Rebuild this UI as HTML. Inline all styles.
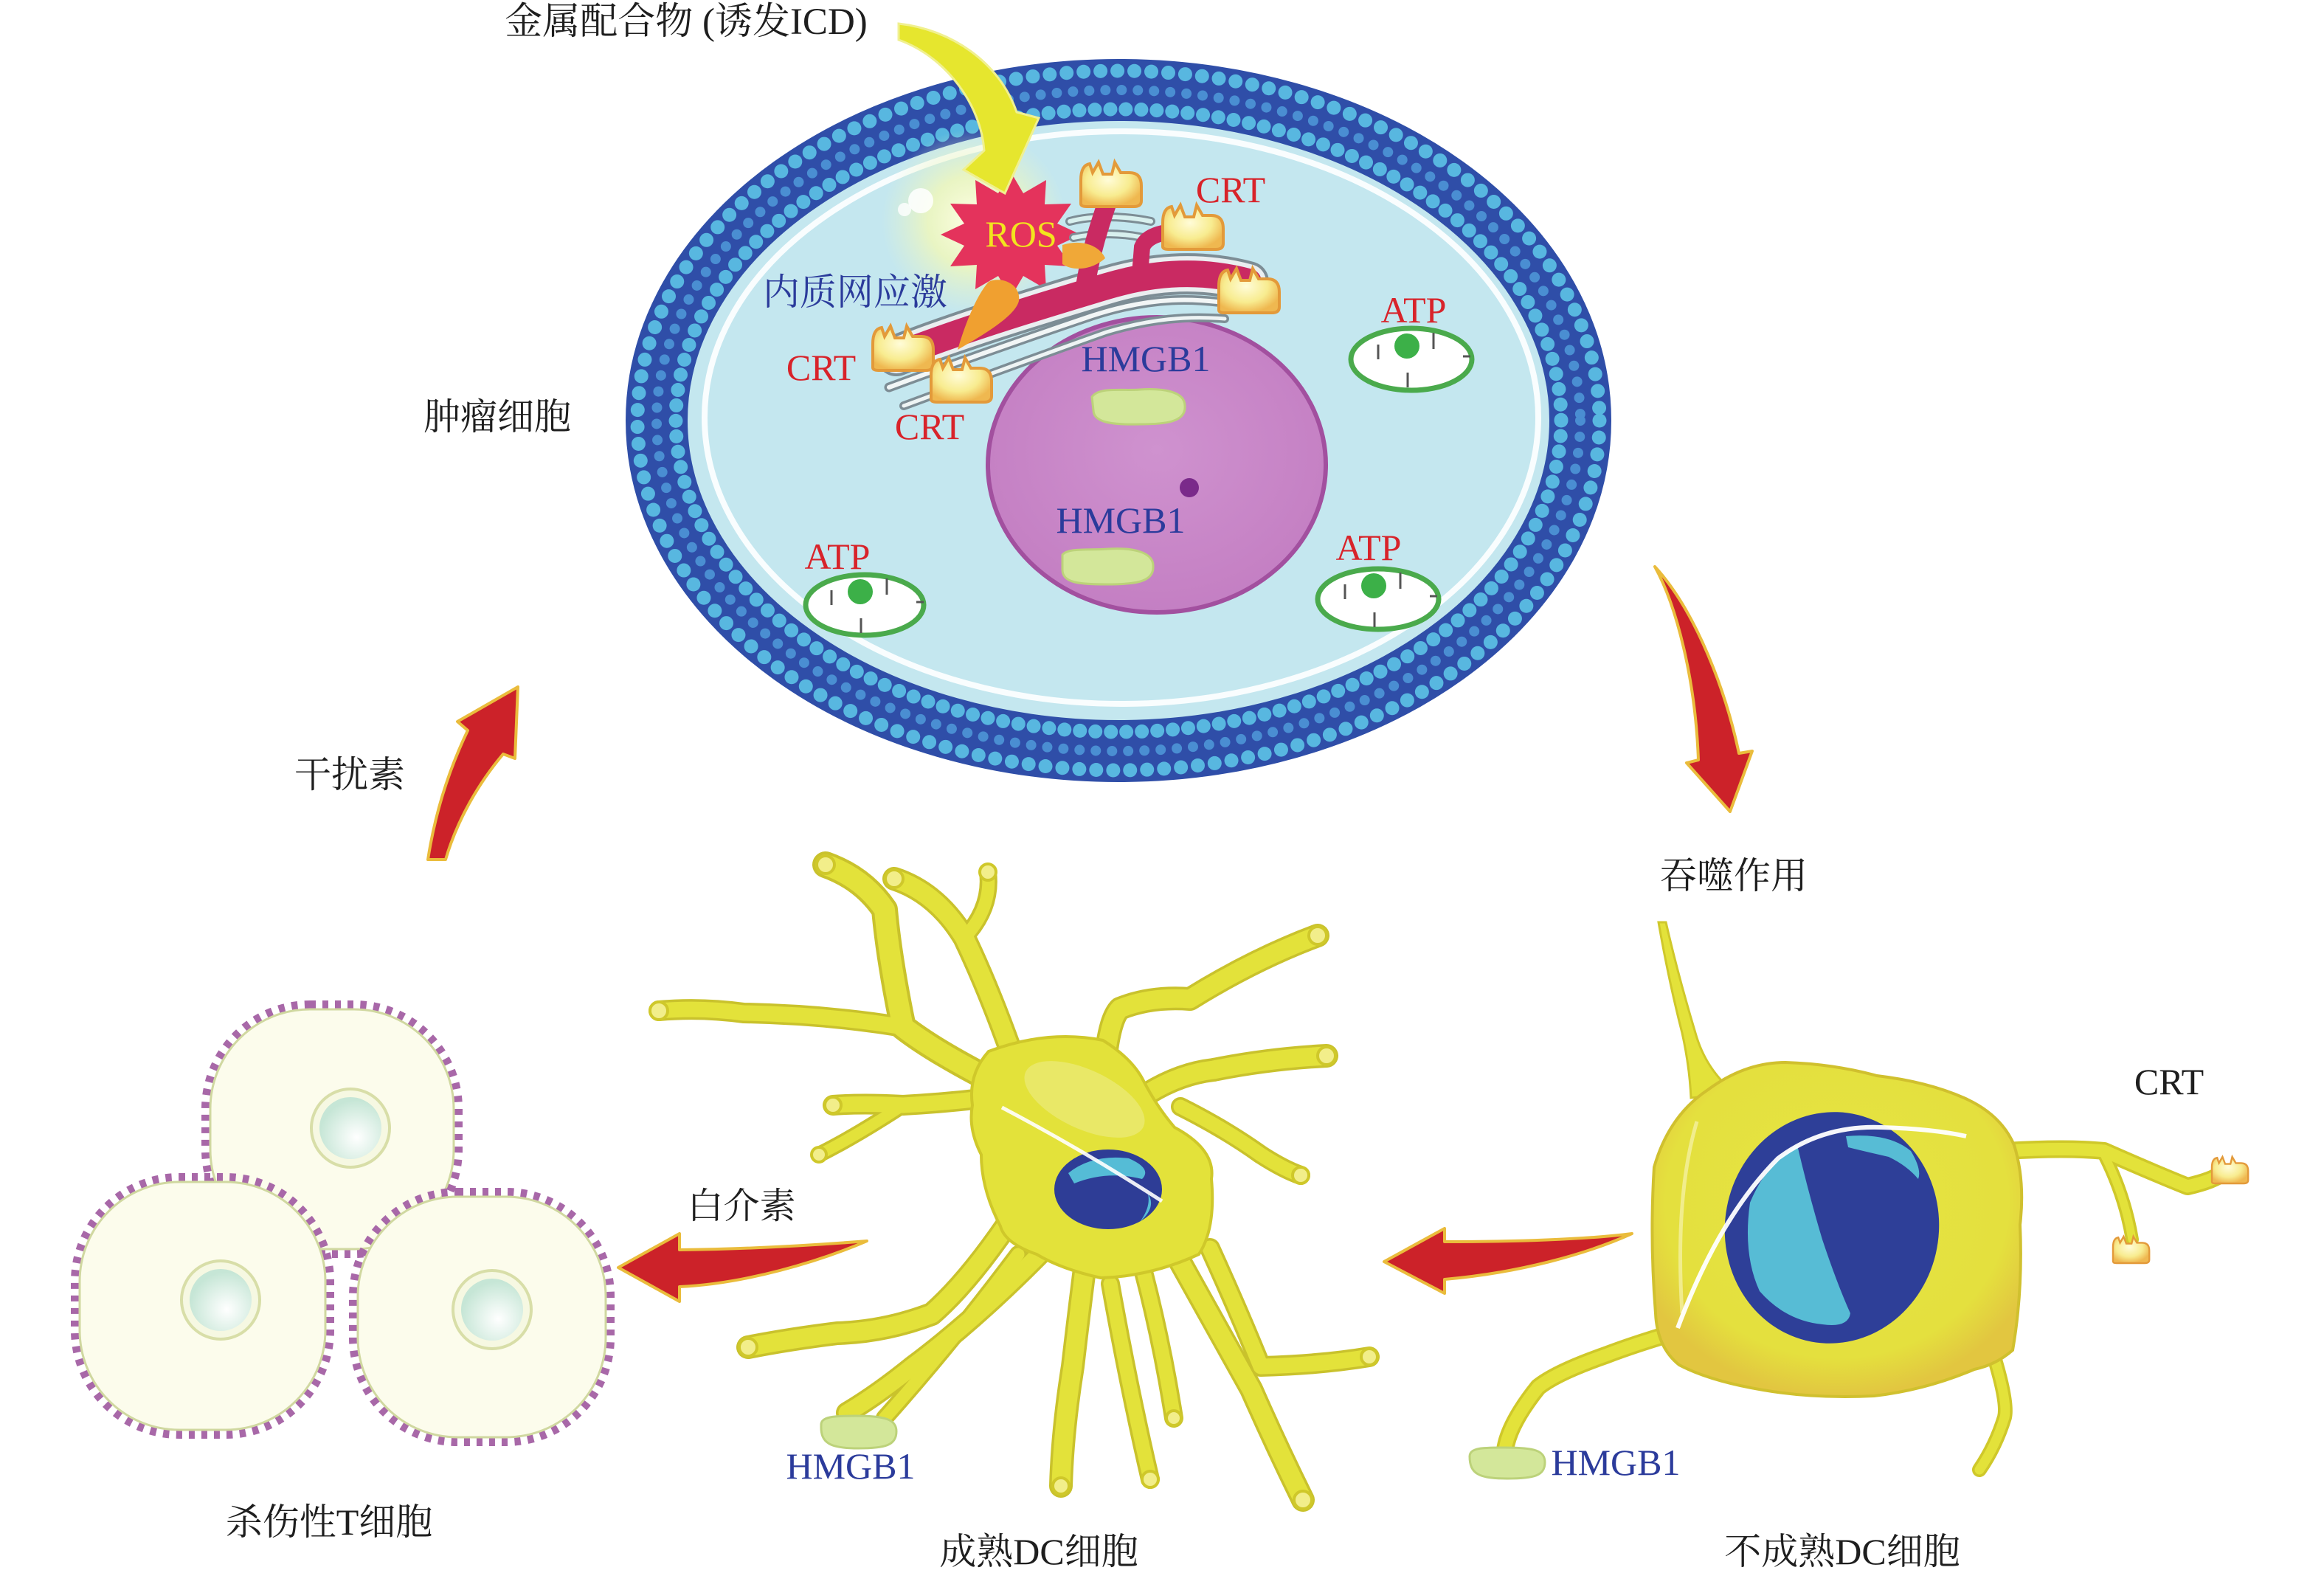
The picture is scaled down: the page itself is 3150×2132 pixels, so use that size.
<!DOCTYPE html>
<html><head><meta charset="utf-8"><style>
html,body{margin:0;padding:0;background:#fff;}
svg{display:block;}
text{font-family:"Liberation Serif","Noto Serif CJK SC",serif;}
</style></head><body>
<svg width="3150" height="2132" viewBox="0 0 3150 2132" xmlns="http://www.w3.org/2000/svg">
<defs>
<radialGradient id="glow" cx="50%" cy="50%" r="50%">
<stop offset="0" stop-color="#ffffe8" stop-opacity="1"/>
<stop offset="0.5" stop-color="#f2f8b8" stop-opacity="0.8"/>
<stop offset="1" stop-color="#e8f4c8" stop-opacity="0"/>
</radialGradient>
<radialGradient id="tnuc" cx="60%" cy="65%" r="60%">
<stop offset="0" stop-color="#ffffff"/>
<stop offset="1" stop-color="#c6e6d6"/>
</radialGradient>
<radialGradient id="crt" cx="45%" cy="40%" r="60%">
<stop offset="0" stop-color="#fffcd8"/>
<stop offset="0.6" stop-color="#f8ec90"/>
<stop offset="1" stop-color="#efb850"/>
</radialGradient>
<radialGradient id="idc" cx="50%" cy="42%" r="58%">
<stop offset="0" stop-color="#e6e444"/>
<stop offset="0.8" stop-color="#e4e03e"/>
<stop offset="1" stop-color="#e2c640"/>
</radialGradient>
<radialGradient id="nuc" cx="50%" cy="45%" r="55%">
<stop offset="0" stop-color="#cf92cf"/>
<stop offset="1" stop-color="#c47fc3"/>
</radialGradient>
</defs>

<!-- ===== Tumor cell ===== -->
<ellipse cx="1516" cy="570" rx="626" ry="448" fill="#c4e7ef" stroke="#2f4ea8" stroke-width="84"/>
<ellipse cx="1516" cy="570" rx="652" ry="474" fill="none" stroke="#58b7e0" stroke-width="19" stroke-linecap="round" stroke-dasharray="0 23"/>
<ellipse cx="1516" cy="570" rx="626" ry="448" fill="none" stroke="#4a8ed2" stroke-width="14" stroke-linecap="round" stroke-dasharray="0 22"/>
<ellipse cx="1516" cy="570" rx="600" ry="422" fill="none" stroke="#58b7e0" stroke-width="19" stroke-linecap="round" stroke-dasharray="0 21"/>
<ellipse cx="1520" cy="566" rx="565" ry="388" fill="none" stroke="#ffffff" stroke-width="8" opacity="0.9"/>

<!-- nucleus -->
<ellipse cx="1568" cy="630" rx="229" ry="200" fill="url(#nuc)" stroke="#a2509f" stroke-width="6"/>
<path d="M1480,538 C1490,524 1520,530 1545,528 C1575,526 1606,530 1606,550 C1608,572 1580,575 1545,575 C1505,576 1482,572 1482,556 Z" fill="#d3e79a" stroke="#bcd27a" stroke-width="3"/>
<path d="M1440,752 C1448,742 1478,746 1502,744 C1535,742 1564,748 1563,768 C1564,790 1535,792 1500,792 C1462,792 1440,790 1440,772 Z" fill="#d3e79a" stroke="#bcd27a" stroke-width="3"/>
<circle cx="1612" cy="661" r="13" fill="#7a2a8a"/>

<!-- mitochondria -->
<g transform="translate(1913,487)">
<ellipse rx="82" ry="42" fill="#fff" stroke="#4aaa4c" stroke-width="7"/>
<circle cx="-6" cy="-18" r="17" fill="#3cb048"/>
<path d="M-45,-20 L-45,0 M30,-36 L30,-14 M70,-4 L80,-4 M-5,18 L-5,38" stroke="#555" stroke-width="3"/>
</g>
<g transform="translate(1172,820)">
<ellipse rx="80" ry="41" fill="#fff" stroke="#4aaa4c" stroke-width="7"/>
<circle cx="-6" cy="-18" r="17" fill="#3cb048"/>
<path d="M-45,-20 L-45,0 M30,-36 L30,-14 M70,-4 L80,-4 M-5,18 L-5,38" stroke="#555" stroke-width="3"/>
</g>
<g transform="translate(1868,812)">
<ellipse rx="82" ry="41" fill="#fff" stroke="#4aaa4c" stroke-width="7"/>
<circle cx="-6" cy="-18" r="17" fill="#3cb048"/>
<path d="M-45,-20 L-45,0 M30,-36 L30,-14 M70,-4 L80,-4 M-5,18 L-5,38" stroke="#555" stroke-width="3"/>
</g>

<!-- glow -->
<circle cx="1320" cy="300" r="125" fill="url(#glow)"/>
<circle cx="1248" cy="272" r="17" fill="#fff" opacity="0.85"/>
<circle cx="1226" cy="284" r="9" fill="#fff" opacity="0.8"/>

<!-- ROS star -->
<polygon points="1465,318 1433,333 1452,361 1416,359 1418,392 1387,374 1370,403 1353,374 1322,392 1324,359 1288,361 1307,333 1275,318 1307,303 1288,276 1324,277 1322,244 1353,262 1370,233 1387,262 1418,244 1416,277 1452,276 1433,303" fill="#e4335c"/>

<!-- ER -->
<g fill="none" stroke-linecap="round">
<path d="M1205,525 C1300,490 1400,455 1480,428 C1560,402 1620,402 1690,415" stroke="#7d8d95" stroke-width="13"/>
<path d="M1205,525 C1300,490 1400,455 1480,428 C1560,402 1620,402 1690,415" stroke="#f2f6f6" stroke-width="6"/>
<path d="M1225,550 C1320,515 1420,478 1500,450 C1560,432 1610,428 1660,432" stroke="#7d8d95" stroke-width="12"/>
<path d="M1225,550 C1320,515 1420,478 1500,450 C1560,432 1610,428 1660,432" stroke="#eef4f4" stroke-width="5"/>
<path d="M1450,300 C1480,292 1520,292 1560,300" stroke="#7d8d95" stroke-width="12"/>
<path d="M1450,300 C1480,292 1520,292 1560,300" stroke="#d8f0ee" stroke-width="6"/>
<path d="M1455,322 C1490,315 1520,316 1550,322" stroke="#7d8d95" stroke-width="12"/>
<path d="M1455,322 C1490,315 1520,316 1550,322" stroke="#d8f0ee" stroke-width="6"/>
<path d="M1215,482 C1300,448 1420,412 1500,388 C1560,370 1625,364 1692,382" stroke="#7d8d95" stroke-width="56"/>
<path d="M1215,482 C1300,448 1420,412 1500,388 C1560,370 1625,364 1692,382" stroke="#eaeef0" stroke-width="48"/>
<path d="M1215,482 C1300,448 1420,412 1500,388 C1560,370 1625,364 1692,382" stroke="#c92a62" stroke-width="36"/>
<path d="M1470,395 C1478,340 1492,300 1505,262" stroke="#c92a62" stroke-width="26"/>
<path d="M1545,372 L1548,335 C1555,318 1580,312 1612,314" stroke="#c92a62" stroke-width="22"/>
</g>
<path d="M1440,332 C1465,324 1490,332 1498,350 C1480,366 1455,368 1440,358 Z" fill="#f0a838"/>
<path d="M1340,382 C1356,374 1384,384 1381,408 C1376,428 1336,452 1298,474 C1306,446 1322,402 1340,382 Z" fill="#f0a030"/>

<!-- CRT blobs -->
<g fill="url(#crt)" stroke="#e39a3a" stroke-width="4">
<path transform="translate(1505,250)" d="M-40,26 L-40,-6 Q-40,-26 -28,-28 L-24,-16 L-16,-30 L-10,-14 L2,-14 L6,-30 L14,-16 L26,-16 Q42,-16 42,2 L42,22 Q42,30 32,30 L-32,30 Q-40,30 -40,26 Z"/>
<path transform="translate(1616,308)" d="M-40,26 L-40,-6 Q-40,-26 -28,-28 L-24,-16 L-16,-30 L-10,-14 L2,-14 L6,-30 L14,-16 L26,-16 Q42,-16 42,2 L42,22 Q42,30 32,30 L-32,30 Q-40,30 -40,26 Z"/>
<path transform="translate(1692,394)" d="M-40,26 L-40,-6 Q-40,-26 -28,-28 L-24,-16 L-16,-30 L-10,-14 L2,-14 L6,-30 L14,-16 L26,-16 Q42,-16 42,2 L42,22 Q42,30 32,30 L-32,30 Q-40,30 -40,26 Z"/>
<path transform="translate(1223,472)" d="M-40,26 L-40,-6 Q-40,-26 -28,-28 L-24,-16 L-16,-30 L-10,-14 L2,-14 L6,-30 L14,-16 L26,-16 Q42,-16 42,2 L42,22 Q42,30 32,30 L-32,30 Q-40,30 -40,26 Z"/>
<path transform="translate(1302,515)" d="M-40,26 L-40,-6 Q-40,-26 -28,-28 L-24,-16 L-16,-30 L-10,-14 L2,-14 L6,-30 L14,-16 L26,-16 Q42,-16 42,2 L42,22 Q42,30 32,30 L-32,30 Q-40,30 -40,26 Z"/>
</g>

<!-- yellow arrow -->
<path d="M1218,32 C1290,40 1355,85 1378,152 L1408,160 L1362,262 L1306,230 L1334,204 C1330,145 1285,78 1218,54 Z" fill="#e6e62e" stroke="#f0f090" stroke-width="3"/>

<!-- cell labels -->
<g font-size="50" text-anchor="middle">
<text x="1384" y="334" fill="#f2e41e">ROS</text>
<text x="1668" y="274" fill="#d8232a">CRT</text>
<text x="1113" y="515" fill="#d8232a">CRT</text>
<text x="1260" y="595" fill="#d8232a">CRT</text>
<text x="1159" y="413" fill="#2b3b9b">内质网应激</text>
<text x="1553" y="503" fill="#2b3b9b">HMGB1</text>
<text x="1519" y="722" fill="#2b3b9b">HMGB1</text>
<text x="1916" y="437" fill="#d8232a">ATP</text>
<text x="1135" y="771" fill="#d8232a">ATP</text>
<text x="1855" y="759" fill="#d8232a">ATP</text>
</g>

<!-- ===== Red arrows ===== -->
<g fill="#cc2229" stroke="#eabc3c" stroke-width="4" stroke-linejoin="round">
<path d="M2243,768 C2272,820 2298,920 2302,1030 L2286,1034 L2345,1100 L2375,1018 L2357,1021 C2340,940 2300,830 2243,768 Z"/>
<path d="M580,1165 L604,1165 C620,1110 650,1060 682,1022 L698,1028 L702,931 L620,978 L634,990 C610,1040 590,1100 580,1165 Z"/>
<path d="M1876,1710 L1958,1665 L1958,1683 C2050,1683 2150,1680 2212,1672 C2150,1700 2060,1725 1958,1734 L1958,1753 Z"/>
<path d="M838,1718 L921,1672 L921,1694 C1010,1693 1100,1688 1175,1682 C1110,1710 1010,1740 921,1744 L921,1764 Z"/>
</g>

<!-- ===== T cells ===== -->
<g>
<rect x="285" y="1368" width="330" height="325" rx="135" fill="none" stroke="#a868a8" stroke-width="24" stroke-dasharray="8 9"/>
<rect x="285" y="1368" width="330" height="325" rx="135" fill="#fcfcec" stroke="#d0d8a0" stroke-width="3"/>
<circle cx="475" cy="1529" r="53" fill="#f6f8e2" stroke="#d8dea8" stroke-width="4"/>
<circle cx="475" cy="1529" r="42" fill="url(#tnuc)"/>
<rect x="108" y="1602" width="333" height="336" rx="135" fill="none" stroke="#a868a8" stroke-width="24" stroke-dasharray="8 9"/>
<rect x="108" y="1602" width="333" height="336" rx="135" fill="#fcfcec" stroke="#d0d8a0" stroke-width="3"/>
<circle cx="299" cy="1762" r="53" fill="#f6f8e2" stroke="#d8dea8" stroke-width="4"/>
<circle cx="299" cy="1762" r="42" fill="url(#tnuc)"/>
<rect x="485" y="1622" width="336" height="326" rx="135" fill="none" stroke="#a868a8" stroke-width="24" stroke-dasharray="8 9"/>
<rect x="485" y="1622" width="336" height="326" rx="135" fill="#fcfcec" stroke="#d0d8a0" stroke-width="3"/>
<circle cx="667" cy="1775" r="53" fill="#f6f8e2" stroke="#d8dea8" stroke-width="4"/>
<circle cx="667" cy="1775" r="42" fill="url(#tnuc)"/>
</g>

<!-- ===== Mature DC ===== -->
<g fill="none" stroke-linecap="round" stroke-linejoin="round">
<g stroke="#c9c22c">
<path d="M1326,1455 Q1260,1420 1224,1392 Q1205,1300 1199,1233 Q1170,1190 1119,1172" stroke-width="36"/>
<path d="M1224,1392 Q1120,1375 1008,1373 Q950,1365 893,1370" stroke-width="28"/>
<path d="M1372,1430 Q1340,1340 1307,1271 Q1270,1210 1212,1191" stroke-width="32"/>
<path d="M1307,1271 Q1345,1230 1339,1182" stroke-width="24"/>
<path d="M1499,1430 Q1505,1380 1518,1367 Q1560,1350 1613,1354 Q1700,1300 1786,1268" stroke-width="32"/>
<path d="M1556,1482 Q1600,1455 1645,1450 Q1720,1435 1798,1431" stroke-width="32"/>
<path d="M1600,1500 Q1660,1530 1709,1565 Q1740,1585 1763,1593" stroke-width="26"/>
<path d="M1339,1488 Q1280,1495 1224,1498 Q1170,1495 1129,1498" stroke-width="28"/>
<path d="M1224,1498 Q1160,1540 1110,1565" stroke-width="22"/>
<path d="M1365,1660 Q1310,1740 1263,1781 Q1200,1805 1135,1807 Q1070,1815 1014,1826" stroke-width="32"/>
<path d="M1409,1700 Q1320,1790 1237,1852 Q1190,1890 1148,1915" stroke-width="30"/>
<path d="M1380,1700 Q1290,1820 1199,1922" stroke-width="24"/>
<path d="M1470,1720 Q1460,1800 1454,1852 Q1440,1940 1438,2014" stroke-width="32"/>
<path d="M1505,1740 Q1530,1880 1559,2005" stroke-width="26"/>
<path d="M1550,1724 Q1575,1820 1591,1922" stroke-width="26"/>
<path d="M1600,1711 Q1650,1800 1696,1883 Q1730,1960 1766,2033" stroke-width="32"/>
<path d="M1640,1692 Q1680,1780 1709,1852 Q1790,1850 1856,1839" stroke-width="28"/>
</g>
<g stroke="#e3e23a">
<path d="M1326,1455 Q1260,1420 1224,1392 Q1205,1300 1199,1233 Q1170,1190 1119,1172" stroke-width="28"/>
<path d="M1224,1392 Q1120,1375 1008,1373 Q950,1365 893,1370" stroke-width="21"/>
<path d="M1372,1430 Q1340,1340 1307,1271 Q1270,1210 1212,1191" stroke-width="25"/>
<path d="M1307,1271 Q1345,1230 1339,1182" stroke-width="17"/>
<path d="M1499,1430 Q1505,1380 1518,1367 Q1560,1350 1613,1354 Q1700,1300 1786,1268" stroke-width="25"/>
<path d="M1556,1482 Q1600,1455 1645,1450 Q1720,1435 1798,1431" stroke-width="25"/>
<path d="M1600,1500 Q1660,1530 1709,1565 Q1740,1585 1763,1593" stroke-width="19"/>
<path d="M1339,1488 Q1280,1495 1224,1498 Q1170,1495 1129,1498" stroke-width="21"/>
<path d="M1224,1498 Q1160,1540 1110,1565" stroke-width="15"/>
<path d="M1365,1660 Q1310,1740 1263,1781 Q1200,1805 1135,1807 Q1070,1815 1014,1826" stroke-width="25"/>
<path d="M1409,1700 Q1320,1790 1237,1852 Q1190,1890 1148,1915" stroke-width="23"/>
<path d="M1380,1700 Q1290,1820 1199,1922" stroke-width="17"/>
<path d="M1470,1720 Q1460,1800 1454,1852 Q1440,1940 1438,2014" stroke-width="25"/>
<path d="M1505,1740 Q1530,1880 1559,2005" stroke-width="19"/>
<path d="M1550,1724 Q1575,1820 1591,1922" stroke-width="19"/>
<path d="M1600,1711 Q1650,1800 1696,1883 Q1730,1960 1766,2033" stroke-width="25"/>
<path d="M1640,1692 Q1680,1780 1709,1852 Q1790,1850 1856,1839" stroke-width="21"/>
</g>
</g>
<g fill="#f2ee8a" stroke="#cfc82a" stroke-width="4">
<circle cx="1119" cy="1172" r="12"/><circle cx="893" cy="1370" r="12"/><circle cx="1212" cy="1191" r="12"/>
<circle cx="1339" cy="1182" r="11"/><circle cx="1786" cy="1268" r="12"/><circle cx="1798" cy="1431" r="12"/>
<circle cx="1763" cy="1593" r="11"/><circle cx="1129" cy="1498" r="11"/><circle cx="1110" cy="1565" r="10"/>
<circle cx="1014" cy="1826" r="12"/><circle cx="1438" cy="2014" r="11"/><circle cx="1559" cy="2005" r="11"/>
<circle cx="1591" cy="1922" r="10"/><circle cx="1766" cy="2033" r="12"/><circle cx="1856" cy="1839" r="11"/>
</g>
<path d="M1340,1425 Q1420,1395 1495,1410 Q1535,1435 1550,1465 Q1568,1500 1592,1528 Q1648,1558 1642,1598 Q1648,1665 1625,1700 Q1560,1730 1492,1732 Q1438,1720 1405,1700 Q1362,1685 1356,1662 Q1330,1612 1330,1565 Q1312,1530 1318,1498 Q1312,1456 1340,1425 Z" fill="#e3e23a" stroke="#cfc82a" stroke-width="4"/>
<ellipse cx="1470" cy="1490" rx="88" ry="40" transform="rotate(25 1470 1490)" fill="#ecec86" opacity="0.6"/>
<ellipse cx="1502" cy="1612" rx="73" ry="54" fill="#2e3d96"/>
<path d="M1448,1590 Q1480,1564 1530,1570 Q1562,1584 1548,1598 Q1500,1586 1456,1604 Z" fill="#55bcd6"/>
<path d="M1556,1618 Q1568,1636 1545,1656 Q1560,1636 1556,1618 Z" fill="#55bcd6"/>
<path d="M1358,1501 Q1470,1560 1575,1628" fill="none" stroke="#ffffff" stroke-width="5" opacity="0.9"/>
<path d="M1113,1932 C1112,1920 1130,1919 1160,1919 C1200,1919 1215,1924 1215,1940 C1215,1959 1200,1963 1163,1963 C1125,1963 1112,1956 1113,1932 Z" fill="#d3e79a" stroke="#bcd27a" stroke-width="3"/>

<!-- ===== Immature DC ===== -->
<path d="M2248,1250 Q2262,1330 2280,1400 Q2290,1445 2292,1488 L2352,1482 Q2312,1450 2298,1400 Q2274,1320 2258,1250 Z" fill="#e3e23a" stroke="#cfc82a" stroke-width="3"/>
<g fill="none" stroke-linecap="round" stroke-linejoin="round">
<path d="M2720,1560 Q2800,1555 2852,1560 Q2920,1590 2965,1608 Q3000,1600 3012,1590" stroke="#cfc82a" stroke-width="24"/>
<path d="M2852,1565 Q2880,1620 2890,1680" stroke="#cfc82a" stroke-width="18"/>
<path d="M2290,1800 Q2220,1820 2176,1837 Q2110,1860 2085,1880 Q2045,1930 2040,1965" stroke="#cfc82a" stroke-width="24"/>
<path d="M2700,1830 Q2722,1900 2717,1921 Q2705,1960 2683,1992" stroke="#cfc82a" stroke-width="20"/>
<path d="M2720,1560 Q2800,1555 2852,1560 Q2920,1590 2965,1608 Q3000,1600 3012,1590" stroke="#e3e23a" stroke-width="17"/>
<path d="M2852,1565 Q2880,1620 2890,1680" stroke="#e3e23a" stroke-width="11"/>
<path d="M2290,1800 Q2220,1820 2176,1837 Q2110,1860 2085,1880 Q2045,1930 2040,1965" stroke="#e3e23a" stroke-width="17"/>
<path d="M2700,1830 Q2722,1900 2717,1921 Q2705,1960 2683,1992" stroke="#e3e23a" stroke-width="13"/>
</g>
<path d="M2315,1477 Q2365,1440 2420,1440 Q2485,1442 2544,1458 Q2612,1466 2662,1488 Q2712,1510 2730,1552 Q2745,1600 2738,1660 Q2742,1750 2728,1830 Q2705,1850 2676,1856 Q2610,1884 2540,1892 Q2460,1896 2390,1884 Q2318,1872 2276,1850 Q2246,1826 2244,1780 Q2236,1680 2242,1582 Q2262,1512 2315,1477 Z" fill="url(#idc)" stroke="#d0c02e" stroke-width="4"/>
<path d="M2300,1520 Q2270,1620 2280,1780" fill="none" stroke="#f4f0a0" stroke-width="5" opacity="0.8"/>
<ellipse cx="2483" cy="1664" rx="145" ry="157" transform="rotate(8 2483 1664)" fill="#2e3f98"/>
<path d="M2436,1552 Q2452,1620 2470,1680 Q2490,1740 2508,1780 Q2505,1800 2470,1795 Q2420,1790 2385,1750 Q2362,1700 2372,1630 Q2395,1575 2436,1552 Z" fill="#57bcd5"/>
<path d="M2502,1540 Q2560,1535 2590,1560 Q2605,1585 2600,1598 Q2585,1580 2560,1568 Q2525,1560 2505,1555 Z" fill="#57bcd5"/>
<path d="M2274,1800 Q2330,1650 2410,1570 Q2470,1525 2550,1528 Q2620,1530 2665,1540" fill="none" stroke="#ffffff" stroke-width="6" opacity="0.95"/>
<g fill="url(#crt)" stroke="#e39a3a" stroke-width="4">
<path transform="translate(3022,1586) scale(0.6)" d="M-40,26 L-40,-6 Q-40,-26 -28,-28 L-24,-16 L-16,-30 L-10,-14 L2,-14 L6,-30 L14,-16 L26,-16 Q42,-16 42,2 L42,22 Q42,30 32,30 L-32,30 Q-40,30 -40,26 Z"/>
<path transform="translate(2888,1694) scale(0.6)" d="M-40,26 L-40,-6 Q-40,-26 -28,-28 L-24,-16 L-16,-30 L-10,-14 L2,-14 L6,-30 L14,-16 L26,-16 Q42,-16 42,2 L42,22 Q42,30 32,30 L-32,30 Q-40,30 -40,26 Z"/>
</g>
<path d="M1992,1974 C1992,1962 2010,1962 2040,1962 C2080,1962 2094,1966 2094,1982 C2094,2000 2080,2004 2043,2004 C2005,2004 1992,1998 1992,1974 Z" fill="#d3e79a" stroke="#bcd27a" stroke-width="3"/>

<!-- ===== Labels ===== -->
<g font-size="50" text-anchor="middle" fill="#1e1e1e">
<text x="930" y="46" font-size="51">金属配合物 (诱发ICD)</text>
<text x="674" y="582">肿瘤细胞</text>
<text x="474" y="1067">干扰素</text>
<text x="2350" y="1204">吞噬作用</text>
<text x="2940" y="1483">CRT</text>
<text x="1005" y="1651" font-size="49">白介素</text>
<text x="446" y="2080">杀伤性T细胞</text>
<text x="1408" y="2120">成熟DC细胞</text>
<text x="2497" y="2120">不成熟DC细胞</text>
<text x="1153" y="2004" fill="#2b3b9b">HMGB1</text>
<text x="2190" y="1999" fill="#2b3b9b">HMGB1</text>
</g>
</svg>
</body></html>
